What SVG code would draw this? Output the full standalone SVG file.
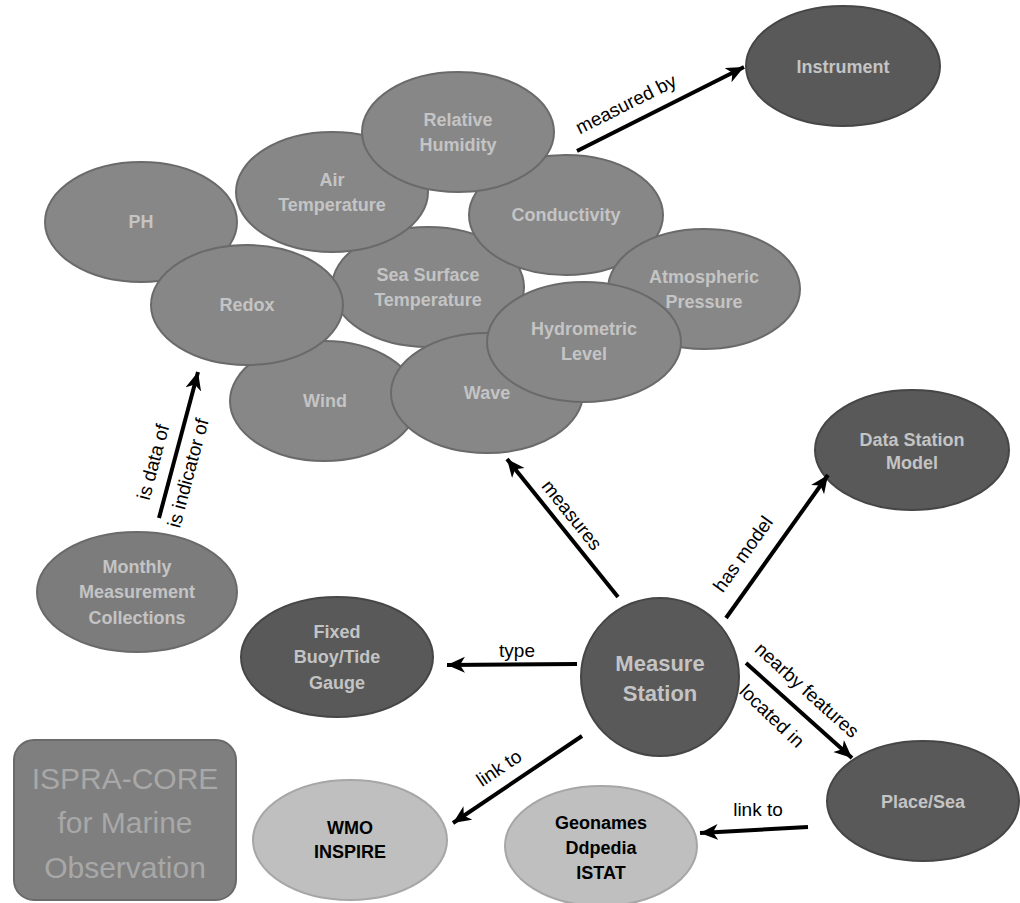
<svg xmlns="http://www.w3.org/2000/svg" width="1020" height="903" viewBox="0 0 1020 903">
<defs>
<marker id="ah" markerUnits="userSpaceOnUse" markerWidth="20" markerHeight="18" refX="18" refY="8" orient="auto">
<path d="M0,0 L18,8 L0,16 L5,8 z" fill="#000"/>
</marker>
<style>
.c{fill:#878787;stroke:#6a6a6a;stroke-width:2}
.d{fill:#595959;stroke:#464646;stroke-width:2}
.l{fill:#bfbfbf;stroke:#a6a6a6;stroke-width:2}
.t{font-family:"Liberation Sans",Arial,sans-serif;font-weight:bold;font-size:18px;fill:#c4c4c4;text-anchor:middle;dominant-baseline:central}
.tb{font-family:"Liberation Sans",Arial,sans-serif;font-weight:bold;font-size:18px;fill:#000;text-anchor:middle;dominant-baseline:central}
.e{font-family:"Liberation Sans",Arial,sans-serif;font-size:19px;fill:#000;text-anchor:middle;dominant-baseline:central}
.big{font-family:"Liberation Sans",Arial,sans-serif;font-size:30px;fill:#a8a8a8;text-anchor:middle;dominant-baseline:central}
.cn{stroke:#000;stroke-width:4;fill:none;marker-end:url(#ah)}
</style>
</defs>
<rect width="1020" height="903" fill="#fff"/>

<g id="ph"><ellipse class="c" cx="141" cy="222" rx="96" ry="60"/><text class="t" x="141" y="222">PH</text></g>
<g id="sea-surface-temperature"><ellipse class="c" cx="428" cy="287" rx="96" ry="60"/><text class="t" x="428" y="275">Sea Surface</text><text class="t" x="428" y="300">Temperature</text></g>
<g id="air-temperature"><ellipse class="c" cx="332" cy="192" rx="96" ry="60"/><text class="t" x="332" y="180">Air</text><text class="t" x="332" y="205">Temperature</text></g>
<g id="conductivity"><ellipse class="c" cx="566" cy="215" rx="97" ry="60"/><text class="t" x="566" y="215">Conductivity</text></g>
<g id="relative-humidity"><ellipse class="c" cx="458" cy="132" rx="96" ry="60"/><text class="t" x="458" y="120">Relative</text><text class="t" x="458" y="145">Humidity</text></g>
<g id="wind"><ellipse class="c" cx="324" cy="401" rx="94" ry="60"/><text class="t" x="325" y="401">Wind</text></g>
<g id="redox"><ellipse class="c" cx="247" cy="305" rx="96" ry="60"/><text class="t" x="247" y="305">Redox</text></g>
<g id="atmospheric-pressure"><ellipse class="c" cx="704" cy="289" rx="96" ry="60"/><text class="t" x="704" y="277">Atmospheric</text><text class="t" x="704" y="302">Pressure</text></g>
<g id="wave"><ellipse class="c" cx="487" cy="393" rx="96" ry="60"/><text class="t" x="487" y="393">Wave</text></g>
<g id="hydrometric-level"><ellipse class="c" cx="584" cy="342" rx="97" ry="60"/><text class="t" x="584" y="329">Hydrometric</text><text class="t" x="584" y="354">Level</text></g>

<g id="instrument"><ellipse class="d" cx="843" cy="66" rx="97" ry="60"/><text class="t" x="843" y="67">Instrument</text></g>
<g id="data-station-model"><ellipse class="d" cx="912" cy="450" rx="97" ry="60"/><text class="t" x="912" y="440">Data Station</text><text class="t" x="912" y="463">Model</text></g>
<g id="monthly-measurement-collections"><ellipse class="c" cx="137" cy="592" rx="100" ry="60" style="fill:#7c7c7c"/><text class="t" x="137" y="567">Monthly</text><text class="t" x="137" y="592">Measurement</text><text class="t" x="137" y="618">Collections</text></g>
<g id="fixed-buoy"><ellipse class="d" cx="337" cy="657" rx="96" ry="60"/><text class="t" x="337" y="632">Fixed</text><text class="t" x="337" y="657">Buoy/Tide</text><text class="t" x="337" y="683">Gauge</text></g>
<g id="measure-station"><circle class="d" cx="660" cy="677" r="79"/><text class="t" x="660" y="663" style="font-size:22px">Measure</text><text class="t" x="660" y="693" style="font-size:22px">Station</text></g>
<g id="place-sea"><ellipse class="d" cx="923" cy="801" rx="96" ry="60"/><text class="t" x="923" y="802">Place/Sea</text></g>
<g id="wmo-inspire"><ellipse class="l" cx="350" cy="840" rx="97" ry="60"/><text class="tb" x="350" y="828">WMO</text><text class="tb" x="350" y="852">INSPIRE</text></g>
<g id="geonames"><ellipse class="l" cx="601" cy="846" rx="96" ry="60"/><text class="tb" x="601" y="823">Geonames</text><text class="tb" x="601" y="848">Ddpedia</text><text class="tb" x="601" y="873">ISTAT</text></g>
<g id="ispra-core"><rect x="14" y="740" width="222" height="160" rx="20" ry="20" fill="#7f7f7f" stroke="#6a6a6a" stroke-width="2"/>
<text class="big" x="125" y="778">ISPRA-CORE</text>
<text class="big" x="125" y="822">for Marine</text>
<text class="big" x="125" y="867">Observation</text></g>

<g id="connectors">
<line class="cn" x1="577" y1="151" x2="744" y2="67"/>
<line class="cn" x1="618" y1="597" x2="507" y2="459"/>
<line class="cn" x1="726" y1="618" x2="828" y2="475"/>
<line class="cn" x1="577" y1="664" x2="447" y2="665"/>
<line class="cn" x1="746" y1="663" x2="852" y2="758"/>
<line class="cn" x1="582" y1="736" x2="453" y2="823"/>
<line class="cn" x1="808" y1="827" x2="700" y2="833"/>
<line class="cn" x1="159" y1="518" x2="198" y2="372"/>
<text class="e" transform="translate(626,104) rotate(-26.7)">measured by</text>
<text class="e" transform="translate(572,515) rotate(51.2)">measures</text>
<text class="e" transform="translate(743,554) rotate(-54.5)">has model</text>
<text class="e" x="517" y="650">type</text>
<text class="e" transform="translate(807,690) rotate(41.9)">nearby features</text>
<text class="e" transform="translate(772,716) rotate(44)">located in</text>
<text class="e" transform="translate(499,768) rotate(-34)">link to</text>
<text class="e" x="758" y="809">link to</text>
<text class="e" transform="translate(153,462) rotate(-75)">is data of</text>
<text class="e" transform="translate(188,473) rotate(-75)">is indicator of</text>
</g>
</svg>
